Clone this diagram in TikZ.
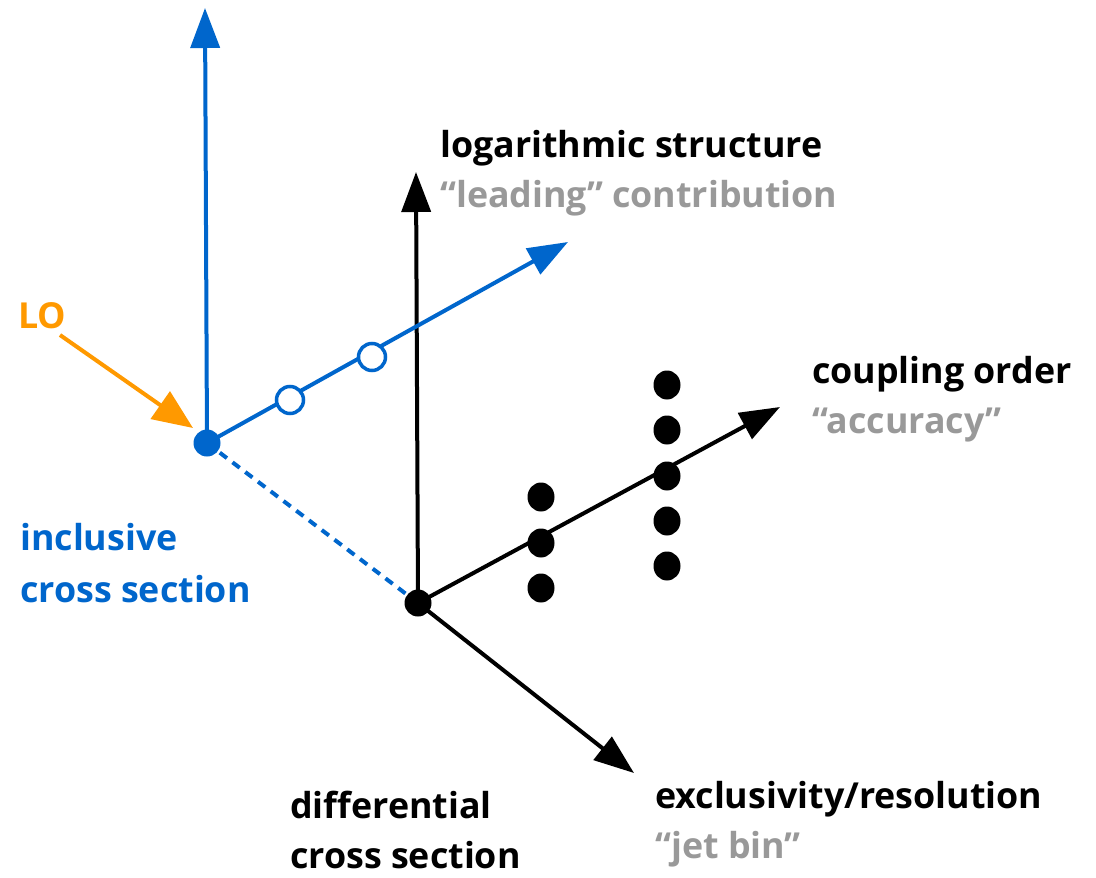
\documentclass[tikz,border=0pt]{standalone}
\usepackage{fontspec}
\setmainfont{Open Sans}
\usetikzlibrary{arrows.meta,shapes.geometric}
\definecolor{axisblue}{HTML}{0066CC}
\definecolor{loorange}{HTML}{FF9900}
\definecolor{softgray}{HTML}{999999}
\tikzset{
  axis/.style={line width=4pt, -{Triangle[length=40pt,width=29pt]}},
  filleddot/.style={circle, fill, inner sep=0pt, minimum size=27pt},
  opendot/.style={circle, draw=axisblue, fill=white, line width=3.5pt, inner sep=0pt, minimum size=27pt},
  blackdot/.style={ellipse, fill=black, inner sep=0pt, minimum width=27pt, minimum height=29pt},
  lbl/.style={anchor=base west, inner sep=0pt, font=\fontsize{35.8}{40}\selectfont\bfseries},
}
\begin{document}
\begin{tikzpicture}[x=1pt, y=-1pt]
\useasboundingbox (0,0) rectangle (1096,878);

% origins
\coordinate (bO) at (207,443);
\coordinate (kO) at (418,603);

% arrow tips
\coordinate (btop) at (205,8);
\coordinate (bdiag) at (568,242);
\coordinate (ktop) at (416,172);
\coordinate (kdiag) at (780,407);
\coordinate (kdown) at (634,773);
\coordinate (lostart) at (60,335);
\coordinate (lotip) at (193,428);

% dashed link between the two origins
\draw[axisblue, line width=4pt, dash pattern=on 9pt off 7pt] (bO) -- (kO);

% black axes
\draw[axis, black] (kO) -- (ktop);
\draw[axis, black] (kO) -- (kdiag);
\draw[axis, black] (kO) -- (kdown);

% blue axes
\draw[axis, axisblue] (bO) -- (btop);
\draw[axis, axisblue] (bO) -- (bdiag);

% LO pointer
\draw[line width=4pt, loorange, -{Triangle[length=40pt,width=33pt]}] (lostart) -- (lotip);

% points on the axes
\node[filleddot, axisblue] (bdot) at (bO) {};
\node[filleddot, black] (kdot) at (kO) {};
\node[opendot] (o1) at (290,400) {};
\node[opendot] (o2) at (372,357) {};

\node[blackdot] (d11) at (541,497) {};
\node[blackdot] (d12) at (541,543) {};
\node[blackdot] (d13) at (541,588) {};
\node[blackdot] (d21) at (667,385) {};
\node[blackdot] (d22) at (667,430) {};
\node[blackdot] (d23) at (667,476) {};
\node[blackdot] (d24) at (667,521) {};
\node[blackdot] (d25) at (667,566) {};

% labels
\node[lbl, loorange] (lo) at (18,328) {LO};
\node[lbl, axisblue] (inc1) at (20,550) {inclusive};
\node[lbl, axisblue] (inc2) at (20,602) {cross section};
\node[lbl] (log1) at (440,157) {logarithmic structure};
\node[lbl, softgray] (log2) at (440,207) {“leading” contribution};
\node[lbl] (cpl1) at (812,383) {coupling order};
\node[lbl, softgray] (cpl2) at (812,433) {“accuracy”};
\node[lbl] (dif1) at (290,818) {differential};
\node[lbl] (dif2) at (290,868) {cross section};
\node[lbl] (exc1) at (655,808) {exclusivity/resolution};
\node[lbl, softgray] (exc2) at (655,858) {“jet bin”};
\end{tikzpicture}
\end{document}
